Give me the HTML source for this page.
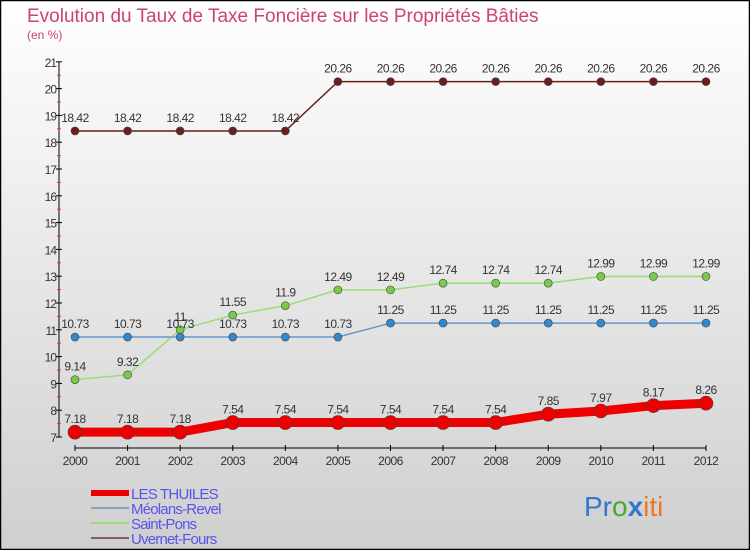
<!DOCTYPE html>
<html><head><meta charset="utf-8"><style>
body{margin:0;width:750px;height:550px;overflow:hidden;font-family:"Liberation Sans",sans-serif}
</style></head><body>
<svg width="750" height="550" xmlns="http://www.w3.org/2000/svg">
<defs><linearGradient id="bg" x1="0" y1="0" x2="0" y2="1"><stop offset="0" stop-color="#ffffff"/><stop offset="1" stop-color="#cfcfcf"/></linearGradient></defs>
<rect x="0.5" y="0.5" width="749" height="549" fill="url(#bg)" stroke="#000" stroke-width="1.5"/>
<text x="27" y="22" font-size="19" fill="#cc4466">Evolution du Taux de Taxe Foncière sur les Propriétés Bâties</text>
<text x="27" y="39" font-size="12" fill="#cc4466">(en %)</text>
<g id="axes"></g><g id="series"></g><g id="legend"></g>
<text x="584" y="516" font-size="28"><tspan fill="#3377cc">Pr</tspan><tspan fill="#44aa33">o</tspan><tspan fill="#3377cc" font-weight="bold">x</tspan><tspan fill="#ee7722">iti</tspan></text>
</svg>
<script>
const years=[2000,2001,2002,2003,2004,2005,2006,2007,2008,2009,2010,2011,2012];
const yTicks=[7,8,9,10,11,12,13,14,15,16,17,18,19,20,21];
const lesThuiles=[7.18,7.18,7.18,7.54,7.54,7.54,7.54,7.54,7.54,7.85,7.97,8.17,8.26];
const meolans=[10.73,10.73,10.73,10.73,10.73,10.73,11.25,11.25,11.25,11.25,11.25,11.25,11.25];
const saintPons=[9.14,9.32,11,11.55,11.9,12.49,12.49,12.74,12.74,12.74,12.99,12.99,12.99];
const uvernet=[18.42,18.42,18.42,18.42,18.42,20.26,20.26,20.26,20.26,20.26,20.26,20.26,20.26];
const names=["LES THUILES","Méolans-Revel","Saint-Pons","Uvernet-Fours"];
const NS="http://www.w3.org/2000/svg";
const xs=i=>75+i*(706-75)/(years.length-1);
const ys=v=>437-(v-7)*26.8;
function mk(t,a,p){const e=document.createElementNS(NS,t);for(const k in a)e.setAttribute(k,a[k]);(p||document.querySelector('svg')).appendChild(e);return e;}
const ax=document.getElementById('axes');
let l=mk('line',{x1:59,y1:ys(21),x2:59,y2:ys(7),stroke:'#000'},ax);


yTicks.forEach(v=>{
 mk('line',{x1:56,x2:62,y1:ys(v),y2:ys(v),stroke:'#000'},ax);
 if(v<21)mk('line',{x1:57,x2:61,y1:ys(v+0.5),y2:ys(v+0.5),stroke:'#e33'},ax);
 const t=mk('text',{x:56,y:ys(v)+5,'font-size':12,'text-anchor':'end',fill:'#333','letter-spacing':'-1'},ax);
 t.textContent=v;
 
 
});
l=mk('line',{x1:xs(0),y1:448,x2:xs(12),y2:448,stroke:'#000'},ax);


years.forEach((y,i)=>{
 mk('line',{x1:xs(i),x2:xs(i),y1:445,y2:451,stroke:'#000'},ax);
 const t=mk('text',{x:xs(i),y:465,'font-size':12,'text-anchor':'middle',fill:'#333','letter-spacing':'-0.5'},ax);
 t.textContent=y;
 
 
});
const sg=document.getElementById('series');
const defs=[[uvernet,'#6b1e1e','#6b1e1e',1.5,4,'uvernet-fours'],[saintPons,'#99dd77','#77cc44',1.5,4,'saint-pons'],[meolans,'#6699cc','#3388cc',1.5,4,'meolans-revel'],[lesThuiles,'#ee0000','#ee0000',9,7,'les-thuiles']];
defs.forEach(([d,lc,mc,w,r,nm])=>{
 const g=mk('g',{},sg);
 
 
 const p=mk('polyline',{points:d.map((v,i)=>xs(i)+','+ys(v)).join(' '),fill:'none',stroke:lc,'stroke-width':w},g);
 
 
 d.forEach((v,i)=>{
  const c=mk('circle',{cx:xs(i),cy:ys(v),r:r,fill:mc,stroke:'#444','stroke-width':0.6},g);
  
  
  const t=mk('text',{x:xs(i),y:ys(v)-9,'font-size':12,'text-anchor':'middle',fill:'#333','letter-spacing':'-0.5'},g);
  t.textContent=v;
  
  
 });
});
const lg=document.getElementById('legend');
[['#ee0000',6],['#7aa8cc',2],['#99dd77',2],['#8b5a5a',2]].forEach(([c,w],i)=>{
 const y=493+i*15;
 const g=mk('g',{},lg);
 
 
 mk('line',{x1:91,x2:129,y1:y,y2:y,stroke:c,'stroke-width':w},g);
 const t=mk('text',{x:131,y:y+6,'font-size':15,fill:'#5555ee','letter-spacing':'-0.8'},g);
 t.textContent=names[i];
});
</script>
</body></html>
